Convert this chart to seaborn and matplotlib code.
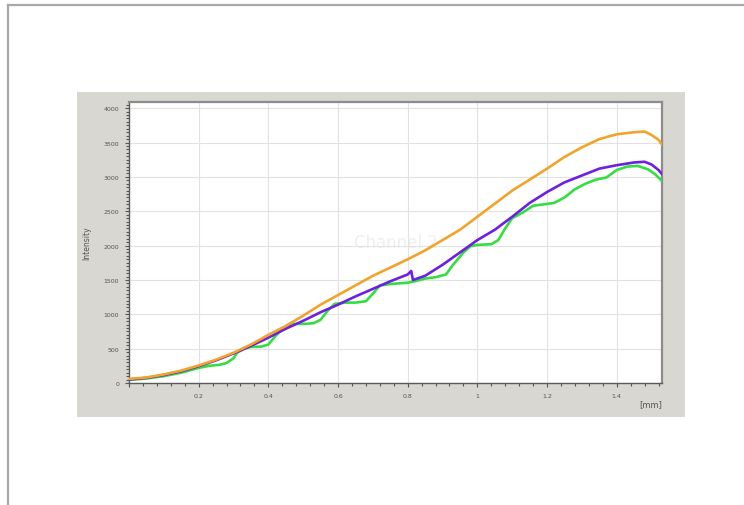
import numpy as np
import pandas as pd
import matplotlib
matplotlib.use("Agg")
import matplotlib.pyplot as plt
from matplotlib.patches import Rectangle
from matplotlib.lines import Line2D
from matplotlib.ticker import MultipleLocator, FuncFormatter
import seaborn as sns

# Channel profiles: position [mm] vs intensity
orange_x = [0, 0.05, 0.1, 0.15, 0.2, 0.25, 0.3, 0.35, 0.4, 0.45, 0.5, 0.55, 0.6, 0.65, 0.7,
            0.75, 0.8, 0.85, 0.9, 0.95, 1.0, 1.05, 1.1, 1.15, 1.2, 1.25, 1.3, 1.35, 1.4,
            1.45, 1.48, 1.5, 1.52, 1.53]
orange_y = [60, 80, 125, 180, 255, 340, 440, 560, 700, 830, 980, 1140, 1280, 1420, 1560,
            1680, 1800, 1930, 2080, 2230, 2420, 2610, 2800, 2960, 3120, 3290, 3430, 3550, 3620,
            3650, 3660, 3610, 3540, 3470]

purple_x = [0, 0.05, 0.1, 0.15, 0.2, 0.25, 0.3, 0.35, 0.4, 0.45, 0.5, 0.55, 0.6, 0.65, 0.7,
            0.75, 0.8, 0.81, 0.815, 0.85, 0.9, 0.95, 1.0, 1.05, 1.1, 1.15, 1.2, 1.25, 1.3,
            1.35, 1.4, 1.45, 1.48, 1.5, 1.52, 1.53]
purple_y = [50, 75, 115, 170, 245, 330, 430, 540, 660, 790, 905, 1030, 1140, 1260, 1370,
            1480, 1580, 1630, 1500, 1560, 1720, 1900, 2080, 2230, 2420, 2620, 2780, 2920, 3020,
            3120, 3170, 3210, 3220, 3180, 3100, 3040]

green_x = [0, 0.05, 0.1, 0.15, 0.2, 0.23, 0.26, 0.28, 0.3, 0.31, 0.33, 0.35, 0.38, 0.4, 0.42,
           0.44, 0.47, 0.5, 0.53, 0.55, 0.57, 0.59, 0.62, 0.65, 0.68, 0.7, 0.72, 0.75, 0.8,
           0.82, 0.85, 0.88, 0.91, 0.93, 0.96, 0.98, 1.0, 1.04, 1.06, 1.08, 1.1, 1.13, 1.16,
           1.19, 1.22, 1.25, 1.28, 1.31, 1.34, 1.37, 1.4, 1.43, 1.46, 1.49, 1.51, 1.53]
green_y = [45, 65, 100, 150, 220, 250, 265, 290, 360, 440, 500, 525, 530, 560, 680,
           790, 860, 860, 870, 920, 1050, 1150, 1170, 1170, 1190, 1300, 1420, 1440, 1460,
           1480, 1520, 1540, 1580, 1720, 1900, 1990, 2010, 2020, 2080, 2250, 2400, 2480, 2580,
           2600, 2620, 2700, 2820, 2900, 2960, 2990, 3100, 3150, 3160, 3110, 3040, 2940]

x_ticks = [0, 0.2, 0.4, 0.6, 0.8, 1.0, 1.2, 1.4]
y_ticks = [0, 500, 1000, 1500, 2000, 2500, 3000, 3500, 4000]

W, H = 744, 506
fig = plt.figure(figsize=(W / 100, H / 100), dpi=100)
fig.patch.set_facecolor("white")

# page border (top and left edges)
fig.add_artist(Line2D([8 / W, 1], [1 - 6 / H, 1 - 6 / H], color="#a8a8a8", lw=1.6))
fig.add_artist(Line2D([8 / W, 8 / W], [0, 1 - 6 / H], color="#a8a8a8", lw=1.6))

# grey chart panel
fig.add_artist(Rectangle((77 / W, 1 - 418 / H), (685 - 77) / W, (418 - 93) / H,
                         transform=fig.transFigure, facecolor="#d8d7d2",
                         edgecolor="none", zorder=0))

ax = fig.add_axes([129 / W, 1 - 384 / H, (662 - 129) / W, (384 - 103) / H])
ax.set_facecolor("white")

ax.text(0.5, 0.5, "Channel 2", transform=ax.transAxes, ha="center", va="center",
        fontsize=12, color="#efefef", zorder=0)

palette = {"orange": "#f2a32a", "purple": "#6d1fe3", "green": "#33de3f"}
series = [("green", green_x, green_y), ("purple", purple_x, purple_y),
          ("orange", orange_x, orange_y)]
for name, xs, ys in series:
    df = pd.DataFrame({"pos": xs, "val": ys})
    sns.lineplot(data=df, x="pos", y="val", ax=ax, color=palette[name], lw=1.9,
                 estimator=None, sort=False, zorder=3)

ax.set_xlim(0, 1.53)
ax.set_ylim(0, 4090)
ax.set_xticks(x_ticks)
ax.set_yticks(y_ticks)
ax.xaxis.set_minor_locator(MultipleLocator(0.04))
ax.yaxis.set_minor_locator(MultipleLocator(50))
ax.xaxis.set_major_formatter(FuncFormatter(lambda v, p: "" if v == 0 else f"{v:g}"))
ax.yaxis.set_major_formatter(FuncFormatter(lambda v, p: f"{v:g}"))
ax.grid(True, which="major", color="#e2e2e2", lw=0.8)
ax.set_axisbelow(True)

ax.tick_params(which="major", direction="out", length=3, width=0.8, color="#555555",
               labelsize=4.5, labelcolor="#555555", pad=4)
ax.tick_params(which="minor", direction="out", length=2, width=0.8, color="#555555")

for side in ["left", "bottom"]:
    ax.spines[side].set_color("#5a5a5a")
    ax.spines[side].set_linewidth(1.0)
for side in ["top", "right"]:
    ax.spines[side].set_color("#8c8c8c")
    ax.spines[side].set_linewidth(1.6)

ax.set_xlabel("")
ax.set_ylabel("Intensity", fontsize=5.5, color="#555555", labelpad=9)
fig.text(662 / W, 1 - 405 / H, "[mm]", ha="right", va="center", fontsize=6,
         color="#555555")

fig.savefig("out.png", dpi=100)
